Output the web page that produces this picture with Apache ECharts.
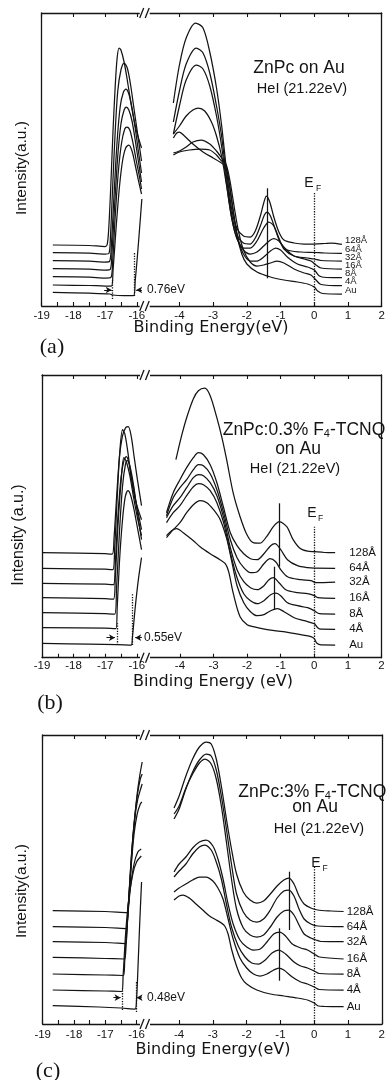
<!DOCTYPE html>
<html>
<head>
<meta charset="utf-8">
<script src="https://cdn.jsdelivr.net/npm/echarts@6/dist/echarts.min.js"></script>
<style>
  html, body { margin: 0; background: #fff; }
  #chart { width: 388px; height: 1080px; }
</style>
</head>
<body>
<div id="chart"></div>
<script>
// film thickness of each trace, top to bottom
const thick = ['128Å', '64Å', '32Å', '16Å', '8Å', '4Å', 'Au'];
const leftLabels = [-19, -18, -17, -16];
const leftTicks = [-19, -18.5, -18, -17.5, -17, -16.5, -16];
const rightLabels = [-4, -3, -2, -1, 0, 1, 2];

// ---- panel (a): ZnPc on Au ----
const aCutoff = [
  [[-18.65,61],[-17.5,60.5],[-17.0,59.5],[-16.93,62],[-16.88,80],[-16.82,120],[-16.75,175],[-16.68,220],[-16.62,248],[-16.56,258],[-16.5,256],[-16.4,244],[-16.3,226],[-16.2,206],[-16.1,188],[-16.0,174],[-15.85,158]],
  [[-18.65,53.3],[-17.5,52.8],[-17.0,52],[-16.88,52.5],[-16.83,70],[-16.76,120],[-16.68,175],[-16.6,215],[-16.5,236],[-16.4,243],[-16.3,238],[-16.2,222],[-16.1,200],[-16.0,178],[-15.85,145]],
  [[-18.65,45.3],[-17.5,44.8],[-17.0,44],[-16.86,44.5],[-16.8,62],[-16.72,110],[-16.62,165],[-16.52,200],[-16.42,214],[-16.34,217],[-16.25,212],[-16.15,198],[-16.05,178],[-15.95,155],[-15.85,133]],
  [[-18.65,37.3],[-17.5,36.8],[-17.0,36],[-16.84,36.5],[-16.78,55],[-16.7,100],[-16.6,150],[-16.5,182],[-16.4,196],[-16.33,199],[-16.25,196],[-16.15,185],[-16.05,166],[-15.95,145],[-15.85,124]],
  [[-18.65,29.3],[-17.5,28.8],[-17.0,28],[-16.82,28.5],[-16.76,45],[-16.68,90],[-16.58,135],[-16.48,163],[-16.38,177],[-16.31,179],[-16.22,176],[-16.12,163],[-16.02,146],[-15.92,130],[-15.85,117]],
  [[-18.65,21],[-17.5,20.5],[-17.0,20],[-16.8,20],[-16.75,35],[-16.66,75],[-16.55,118],[-16.45,145],[-16.35,158],[-16.25,161],[-16.15,155],[-16.05,141],[-15.95,126],[-15.85,112]],
  [[-18.65,13.7],[-17.5,12.8],[-16.85,12],[-16.76,11],[-16.4,10.5],[-16.1,10.5],[-16.05,25],[-15.98,50],[-15.91,78],[-15.84,107]]
];
const aValence = [
  [[-4.18,203],[-4.0,241],[-3.8,268],[-3.52,283],[-3.3,278],[-3.1,254],[-2.9,218],[-2.75,181],[-2.6,135],[-2.45,97],[-2.3,78],[-2.1,70],[-1.9,69],[-1.75,75],[-1.6,90],[-1.5,103],[-1.42,110],[-1.32,104],[-1.2,89],[-1.05,74],[-0.9,66],[-0.6,63],[-0.3,62],[0,62],[0.3,62.5],[0.5,63],[0.82,61.7]],
  [[-4.18,184],[-4.0,215],[-3.8,242],[-3.5,258],[-3.3,253],[-3.1,233],[-2.9,200],[-2.75,170],[-2.6,128],[-2.45,92],[-2.3,72],[-2.1,63],[-1.9,62],[-1.75,68],[-1.6,80],[-1.48,91],[-1.4,94],[-1.3,90],[-1.15,76],[-1.0,63],[-0.8,56],[-0.4,54],[0,53.5],[0.3,53],[0.82,52.7]],
  [[-4.18,172],[-4.0,200],[-3.8,226],[-3.5,241],[-3.3,237],[-3.1,220],[-2.9,190],[-2.75,160],[-2.6,122],[-2.45,88],[-2.3,68],[-2.1,58],[-1.9,58],[-1.7,65],[-1.5,78],[-1.35,84],[-1.2,80],[-1.05,68],[-0.9,57],[-0.6,50],[-0.2,48],[0,47],[0.2,45.5],[0.82,45]],
  [[-4.18,172],[-4.0,180],[-3.8,190],[-3.6,196],[-3.44,198],[-3.25,195],[-3.05,184],[-2.9,170],[-2.75,150],[-2.6,120],[-2.45,88],[-2.3,68],[-2.1,56],[-1.9,52],[-1.7,54],[-1.5,60],[-1.3,66],[-1.2,67.5],[-1.05,65],[-0.85,57],[-0.6,50],[-0.3,47],[-0.1,45],[0.05,41],[0.2,38],[0.82,37]],
  [[-4.18,153],[-4.0,155],[-3.8,159],[-3.6,164],[-3.35,166],[-3.1,162],[-2.9,155],[-2.75,148],[-2.62,140],[-2.5,118],[-2.38,90],[-2.25,66],[-2.1,52],[-1.9,45],[-1.7,45],[-1.5,49],[-1.3,55],[-1.15,58],[-1.0,56],[-0.8,49],[-0.5,42],[-0.2,39],[0,36],[0.15,30],[0.35,28.5],[0.82,28.3]],
  [[-4.18,151],[-4.0,154],[-3.7,156],[-3.4,157],[-3.1,156],[-2.9,151],[-2.75,145],[-2.62,142],[-2.5,125],[-2.38,100],[-2.25,75],[-2.1,56],[-1.9,44],[-1.7,40],[-1.5,41],[-1.3,43],[-1.1,45],[-0.9,43],[-0.6,37],[-0.3,33],[-0.1,31],[0.05,26],[0.2,21.5],[0.82,20.3]],
  [[-4.18,168],[-4.08,173],[-4.0,174],[-3.85,170],[-3.6,162],[-3.3,154],[-3.0,148],[-2.8,144],[-2.65,140],[-2.55,128],[-2.45,105],[-2.3,72],[-2.15,52],[-2.0,42],[-1.7,34],[-1.3,29],[-0.9,26],[-0.5,24],[-0.2,22],[0,19],[0.1,15],[0.25,12.5],[0.82,12]]
];
const aDotted = [[-16.76, 7, 26], [-16.08, 10, 53]];
const aArrows = [[-17.03, -16.79, 16], [-15.84, -16.02, 16]];
const aFermi = [0, 0, 114];
const aPeaks = [[-1.40, 27.7, 117.7]];

// ---- panel (b): ZnPc:0.3% F4-TCNQ on Au ----
const bCutoff = [
  [[-19,105],[-17,104],[-16.78,103.5],[-16.72,120],[-16.64,160],[-16.55,200],[-16.45,222],[-16.35,230],[-16.27,231],[-16.18,222],[-16.08,200],[-15.98,178],[-15.85,152]],
  [[-19,89.4],[-17,88.5],[-16.76,88],[-16.7,110],[-16.62,160],[-16.54,205],[-16.45,228],[-16.38,224],[-16.28,205],[-16.18,180],[-16.05,158],[-15.85,138]],
  [[-19,74.4],[-17,73.5],[-16.74,73],[-16.68,95],[-16.6,140],[-16.5,180],[-16.4,198],[-16.33,201],[-16.25,195],[-16.15,178],[-16.02,155],[-15.85,128]],
  [[-19,60],[-17,59],[-16.74,58.5],[-16.68,80],[-16.6,130],[-16.5,175],[-16.41,200],[-16.33,196],[-16.22,182],[-16.1,160],[-15.98,140],[-15.85,122]],
  [[-19,45],[-17,44],[-16.7,43.5],[-16.64,70],[-16.55,125],[-16.45,172],[-16.36,193],[-16.3,197],[-16.22,192],[-16.1,172],[-15.98,145],[-15.85,118]],
  [[-19,30],[-17,29.5],[-16.66,29],[-16.62,50],[-16.55,95],[-16.46,135],[-16.37,160],[-16.28,167],[-16.2,163],[-16.1,150],[-15.98,130],[-15.85,108]],
  [[-19,14.4],[-17.5,13.5],[-16.62,13],[-16.18,12.5],[-16.14,20],[-16.05,50],[-15.95,78],[-15.85,100]]
];
const bValence = [
  [[-4.12,198],[-3.95,222],[-3.8,240],[-3.6,259],[-3.45,267],[-3.26,269.5],[-3.1,262],[-2.91,241],[-2.75,220],[-2.61,198],[-2.41,164],[-2.21,141],[-2.02,124],[-1.82,115],[-1.62,114.5],[-1.42,121],[-1.22,131],[-1.04,136],[-0.82,131],[-0.63,118],[-0.43,109.5],[-0.2,106.5],[0,106],[0.3,105.2],[0.62,105]],
  [[-4.4,145],[-4.2,165],[-4.0,178],[-3.8,190],[-3.6,200],[-3.45,205],[-3.3,203],[-3.1,193],[-2.9,175],[-2.7,150],[-2.5,125],[-2.3,112],[-2.1,104],[-1.9,99],[-1.7,98],[-1.5,104],[-1.3,112],[-1.17,114],[-1.0,108],[-0.8,98],[-0.5,92],[-0.2,90],[0,89.5],[0.62,89.4]],
  [[-4.4,142],[-4.2,160],[-4.0,170],[-3.8,178],[-3.6,188],[-3.45,193],[-3.3,192],[-3.1,184],[-2.9,168],[-2.7,145],[-2.5,118],[-2.3,100],[-2.1,90],[-1.9,85],[-1.7,86],[-1.5,94],[-1.32,99],[-1.15,96],[-1.0,88],[-0.8,81],[-0.4,78],[-0.1,77],[0.05,75],[0.62,75.5]],
  [[-4.4,140],[-4.2,152],[-4.0,160],[-3.8,170],[-3.6,180],[-3.45,183],[-3.3,182],[-3.1,175],[-2.9,162],[-2.7,140],[-2.5,110],[-2.3,88],[-2.1,76],[-1.9,70],[-1.7,68],[-1.5,72],[-1.35,78],[-1.22,80],[-1.05,75],[-0.85,68],[-0.5,65],[-0.2,64],[0,62],[0.1,60],[0.62,59.4]],
  [[-4.4,135],[-4.2,145],[-4.0,152],[-3.8,162],[-3.6,171],[-3.45,174],[-3.3,173],[-3.1,167],[-2.9,155],[-2.7,135],[-2.5,105],[-2.3,80],[-2.1,64],[-1.9,57],[-1.7,54],[-1.5,57],[-1.3,63],[-1.14,64.5],[-1.0,62],[-0.8,55],[-0.5,52],[-0.2,50],[0,47],[0.15,44],[0.62,43.7]],
  [[-4.4,120],[-4.2,128],[-4.0,135],[-3.8,145],[-3.6,153],[-3.4,157],[-3.2,155],[-3.0,148],[-2.8,138],[-2.6,118],[-2.45,95],[-2.3,72],[-2.1,55],[-1.9,46],[-1.7,42],[-1.5,43],[-1.3,47],[-1.1,49],[-0.9,46],[-0.6,40],[-0.3,37],[0,34],[0.1,30],[0.2,28.5],[0.62,28.4]],
  [[-4.4,122],[-4.25,127],[-4.1,129],[-3.9,125],[-3.6,117],[-3.4,111],[-3.1,104],[-2.81,98],[-2.65,94],[-2.55,86],[-2.41,64],[-2.21,41],[-2.0,33],[-1.82,31],[-1.4,28],[-0.92,26],[-0.4,23],[-0.1,21],[0,19],[0.08,14.4],[0.2,12.8],[0.62,12.7]]
];
const bDotted = [[-16.62, 12.7, 34.4], [-16.15, 12.7, 64.4]];
const bArrows = [[-16.96, -16.69, 20], [-15.84, -16.05, 20]];
const bFermi = [0, 0, 131];
const bPeaks = [[-1.04, 91, 154.4], [-1.2, 47.7, 91]];

// ---- panel (c): ZnPc:3% F4-TCNQ on Au ----
const cCutoff = [
  [[-18.68,113.3],[-17,112.5],[-16.3,111.5],[-16.26,118],[-16.2,145],[-16.14,175],[-16.06,205],[-15.98,230],[-15.9,248],[-15.82,262]],
  [[-18.68,97.3],[-17,96.5],[-16.33,95.5],[-16.29,105],[-16.22,140],[-16.14,178],[-16.05,210],[-15.96,232],[-15.88,245],[-15.82,250]],
  [[-18.68,82.3],[-17,81.5],[-16.35,80.5],[-16.31,92],[-16.24,130],[-16.16,170],[-16.06,205],[-15.96,225],[-15.87,235],[-15.82,240]],
  [[-18.68,66.7],[-17,65.5],[-16.38,65],[-16.34,78],[-16.27,115],[-16.18,155],[-16.08,190],[-15.98,210],[-15.88,220],[-15.83,222]],
  [[-18.68,50],[-17,49],[-16.42,48.5],[-16.38,62],[-16.3,100],[-16.2,135],[-16.08,160],[-15.96,172],[-15.85,175]],
  [[-18.68,34],[-17,33],[-16.47,32.5],[-16.43,48],[-16.35,90],[-16.25,125],[-16.12,150],[-16.0,162],[-15.85,168]],
  [[-18.68,18.3],[-17.2,17],[-16.5,16],[-16.05,15],[-16.0,25],[-15.95,60],[-15.9,100],[-15.84,142]]
];
const cValence = [
  [[-4.15,216],[-4.0,228],[-3.8,248],[-3.6,265],[-3.4,277],[-3.2,282],[-3.05,280],[-2.9,265],[-2.75,238],[-2.6,205],[-2.45,175],[-2.3,150],[-2.1,132],[-1.9,124],[-1.7,121],[-1.5,123],[-1.3,130],[-1.1,138],[-0.9,144],[-0.75,146],[-0.6,140],[-0.45,128],[-0.3,120],[-0.1,116],[0.1,114],[0.5,113],[0.87,112.5]],
  [[-4.15,205],[-4.0,215],[-3.8,235],[-3.6,252],[-3.4,264],[-3.2,270],[-3.05,268],[-2.9,254],[-2.75,228],[-2.6,195],[-2.45,160],[-2.3,130],[-2.1,112],[-1.9,104],[-1.7,102],[-1.5,105],[-1.3,114],[-1.1,126],[-0.9,133],[-0.75,134],[-0.6,128],[-0.45,115],[-0.3,105],[-0.1,100],[0.1,98],[0.87,97.3]],
  [[-4.15,210],[-4.0,218],[-3.8,236],[-3.6,250],[-3.4,261],[-3.23,265],[-3.05,260],[-2.9,245],[-2.75,218],[-2.6,182],[-2.45,145],[-2.3,115],[-2.1,96],[-1.9,89],[-1.7,87],[-1.5,89],[-1.3,97],[-1.1,107],[-0.9,113],[-0.75,114],[-0.6,109],[-0.45,99],[-0.3,90],[-0.1,86],[0.05,84],[0.2,82.5],[0.87,82.3]],
  [[-4.15,152],[-4.0,160],[-3.8,167],[-3.6,176],[-3.4,182],[-3.2,184],[-3.0,178],[-2.85,165],[-2.7,145],[-2.55,120],[-2.4,100],[-2.2,84],[-2.0,77],[-1.8,74],[-1.6,75],[-1.4,82],[-1.2,90],[-1.02,92],[-0.85,88],[-0.65,80],[-0.4,76],[-0.2,74],[0,70],[0.15,67],[0.87,65]],
  [[-4.15,147],[-4.0,153],[-3.8,160],[-3.6,170],[-3.4,177],[-3.25,179],[-3.05,174],[-2.9,162],[-2.75,145],[-2.6,120],[-2.45,97],[-2.25,78],[-2.05,67],[-1.85,61],[-1.65,60],[-1.45,64],[-1.25,71],[-1.05,74],[-0.85,70],[-0.6,62],[-0.4,58],[-0.2,56],[0,53],[0.15,50.5],[0.87,50]],
  [[-4.15,132],[-4.0,136],[-3.8,140],[-3.6,144],[-3.4,147],[-3.2,147],[-3.0,143],[-2.85,136],[-2.7,125],[-2.55,105],[-2.4,85],[-2.2,66],[-2.0,56],[-1.8,50],[-1.6,48],[-1.4,50],[-1.2,54],[-1.05,56],[-0.9,54],[-0.65,47],[-0.4,42],[-0.2,40],[0,37],[0.15,34.5],[0.87,34]],
  [[-4.15,124],[-4.0,128],[-3.88,129],[-3.7,126],[-3.5,120],[-3.3,114],[-3.1,108],[-2.9,104],[-2.75,101],[-2.65,98],[-2.55,90],[-2.45,75],[-2.3,58],[-2.15,46],[-2.0,40],[-1.7,34],[-1.3,30],[-0.9,28],[-0.5,26],[-0.2,24],[0,21],[0.12,18],[0.3,17.5],[0.87,17.3]]
];
const cDotted = [[-16.46, 14, 35.7], [-16.02, 12, 42.3]];
const cArrows = [[-16.74, -16.51, 26.3], [-15.84, -16.0, 26.3]];
const cFermi = [0, 0, 157];
const cPeaks = [[-0.75, 94, 152.3], [-1.03, 43.3, 95.7]];

const ink = '#141414';
const sans = 'Liberation Sans, Arial, sans-serif';

const grids = [], xAxes = [], yAxes = [], series = [], graphics = [];

function addAxes(L, left, width, min, max, ticks, labels, ySide) {
  grids.push({ left: left, top: L.top, width: width, height: L.h });
  const gi = grids.length - 1;
  const line = { onZero: false, lineStyle: { color: ink, width: 1.3 } };
  xAxes.push({
    gridIndex: gi, type: 'value', min: min, max: max, position: 'bottom',
    axisLine: line,
    axisTick: { inside: true, length: 4, customValues: ticks, lineStyle: { color: ink, width: 1.1 } },
    axisLabel: { customValues: labels, color: ink, fontSize: 11.5, fontFamily: sans, margin: L.labelMargin },
    splitLine: { show: false }
  });
  const xi = xAxes.length - 1;
  xAxes.push({
    gridIndex: gi, type: 'value', min: min, max: max, position: 'top',
    axisLine: line,
    axisTick: { inside: true, length: 4, customValues: labels, lineStyle: { color: ink, width: 1.1 } },
    axisLabel: { show: false },
    splitLine: { show: false }
  });
  yAxes.push({
    gridIndex: gi, type: 'value', min: 0, max: L.h, position: ySide,
    axisLine: { show: true, onZero: false, lineStyle: { color: ink, width: 1.3 } },
    axisTick: { show: false }, axisLabel: { show: false }, splitLine: { show: false }
  });
  return { x: xi, y: yAxes.length - 1 };
}

function curve(ax, name, pts, endLabel) {
  const s = {
    type: 'line', name: name, xAxisIndex: ax.x, yAxisIndex: ax.y,
    data: pts, smooth: 0.3, showSymbol: false, symbol: 'none', silent: true,
    lineStyle: { color: ink, width: 1.25 }
  };
  if (endLabel) {
    s.endLabel = Object.assign({
      show: true, formatter: p => p.seriesName, color: ink, fontFamily: sans
    }, endLabel);
  }
  return s;
}

function vline(d, type) {
  return [{ coord: [d[0], d[1]], lineStyle: { type: type, color: ink, width: type === 'dotted' ? 1.3 : 1.25 } },
          { coord: [d[0], d[2]] }];
}

function arrow(a) {
  return [{ coord: [a[0], a[2]], symbol: 'none', lineStyle: { type: 'solid', color: ink, width: 1 } },
          { coord: [a[1], a[2]], symbol: 'arrow', symbolSize: [5, 6] }];
}

function marks(items) {
  return {
    silent: true, symbol: 'none', animation: false,
    label: { show: false },
    lineStyle: { color: ink, width: 1.2, type: 'solid' },
    data: items
  };
}

function buildPanel(L, cut, val, dotted, arrows, fermi, peaks, endLabel) {
  const axL = addAxes(L, L.left, L.junc - L.left, -19, L.lmax, leftTicks, leftLabels, 'left');
  const axR = addAxes(L, L.junc, L.right - L.junc, L.rmin, 2, rightLabels, rightLabels, 'right');
  cut.forEach((pts, i) => series.push(curve(axL, thick[i], pts, null)));
  series[series.length - 1].markLine = marks(dotted.map(d => vline(d, 'dotted')).concat(arrows.map(arrow)));
  val.forEach((pts, i) => series.push(curve(axR, thick[i], pts, endLabel)));
  series[series.length - 1].markLine = marks([vline(fermi, 'dotted')].concat(peaks.map(p => vline(p, 'solid'))));

  // axis break marks "//" on top and bottom frame lines
  [L.top, L.top + L.h].forEach(y => {
    graphics.push({ type: 'rect', z: 100, shape: { x: L.junc - 5, y: y - 2.5, width: 10, height: 5 }, style: { fill: '#fff' } });
    graphics.push({ type: 'line', z: 101, shape: { x1: L.junc - 5, y1: y + 5, x2: L.junc - 1, y2: y - 5 }, style: { stroke: ink, lineWidth: 1.3 } });
    graphics.push({ type: 'line', z: 101, shape: { x1: L.junc + 0.5, y1: y + 5, x2: L.junc + 4.5, y2: y - 5 }, style: { stroke: ink, lineWidth: 1.3 } });
  });
}

function text(str, x, y, size, align, family, extra) {
  graphics.push(Object.assign({
    type: 'text', z: 100, x: x, y: y,
    style: { text: str, fill: ink, fontSize: size, fontFamily: family || sans, align: align || 'center', verticalAlign: 'middle' }
  }, extra || {}));
}

function richTitle(main, sub, rest, x, y) {
  graphics.push({
    type: 'text', z: 100, x: x, y: y,
    style: {
      text: '{a|' + main + '}{s|' + sub + '}{a|' + rest + '}',
      rich: {
        a: { fontSize: 17.5, fontFamily: sans, fill: ink },
        s: { fontSize: 11, fontFamily: sans, fill: ink, verticalAlign: 'bottom' }
      },
      align: 'left', verticalAlign: 'middle'
    }
  });
}

function yTitle(str, x, y, size) {
  text(str, x, y, size, 'center', sans, { rotation: Math.PI / 2 });
}

// layouts (pixels) of the three panels
const layA = { top: 13, h: 293, left: 41.7, junc: 144.7, right: 381.7, lmax: -15.75, rmin: -5.03, labelMargin: 3.5 };
const layB = { top: 375, h: 282.7, left: 42, junc: 145, right: 381.5, lmax: -15.74, rmin: -5.04, labelMargin: 2 };
const layC = { top: 735, h: 289, left: 42.7, junc: 145, right: 387.5, lmax: -15.73, rmin: -5.01, labelMargin: 5 };

buildPanel(layA, aCutoff, aValence, aDotted, aArrows, aFermi, aPeaks, { fontSize: 9.5, distance: 3, offset: [0, -4] });
buildPanel(layB, bCutoff, bValence, bDotted, bArrows, bFermi, bPeaks, { fontSize: 11.5, distance: 14, offset: [0, 0] });
buildPanel(layC, cCutoff, cValence, cDotted, cArrows, cFermi, cPeaks, { fontSize: 11.5, distance: 3, offset: [0, 0] });

// panel (a) texts
text('ZnPc on Au', 299, 68.5, 17.5);
text('HeI (21.22eV)', 302, 89, 14.5);
text('E', 309, 183, 14);
text('F', 318.5, 189, 8.5);
text('0.76eV', 147, 290, 12, 'left');
text('Binding Energy(eV)', 211, 328, 16, 'center', 'DejaVu Sans, sans-serif');
yTitle('Intensity(a.u.)', 21.7, 168, 15.5);
text('(a)', 52, 347, 22, 'center', 'Liberation Serif, serif');

// panel (b) texts
richTitle('ZnPc:0.3% F', '4', '-TCNQ', 222.7, 430);
text('on Au', 298, 449, 17.5);
text('HeI (21.22eV)', 295, 469, 14.5);
text('E', 312, 513, 14);
text('F', 320.5, 519, 8.5);
text('0.55eV', 144, 638, 12, 'left');
text('Binding Energy (eV)', 213, 682, 16, 'center', 'DejaVu Sans, sans-serif');
yTitle('Intensity (a.u.)', 18.3, 535, 16);
text('(b)', 50, 703, 22, 'center', 'Liberation Serif, serif');

// panel (c) texts
richTitle('ZnPc:3% F', '4', '-TCNQ', 238.3, 792);
text('on Au', 315, 807.5, 17.5);
text('HeI (21.22eV)', 319, 828.5, 14.5);
text('E', 316, 863, 14);
text('F', 325, 869, 8.5);
text('0.48eV', 147, 998, 12, 'left');
text('Binding Energy(eV)', 213, 1050, 16, 'center', 'DejaVu Sans, sans-serif');
yTitle('Intensity(a.u.)', 21.7, 891, 15.5);
text('(c)', 48, 1071, 22, 'center', 'Liberation Serif, serif');

const chart = echarts.init(document.getElementById('chart'), null, { renderer: 'canvas' });
chart.setOption({
  backgroundColor: '#fff',
  animation: false,
  grid: grids,
  xAxis: xAxes,
  yAxis: yAxes,
  series: series,
  graphic: { elements: graphics }
});
</script>
</body>
</html>
